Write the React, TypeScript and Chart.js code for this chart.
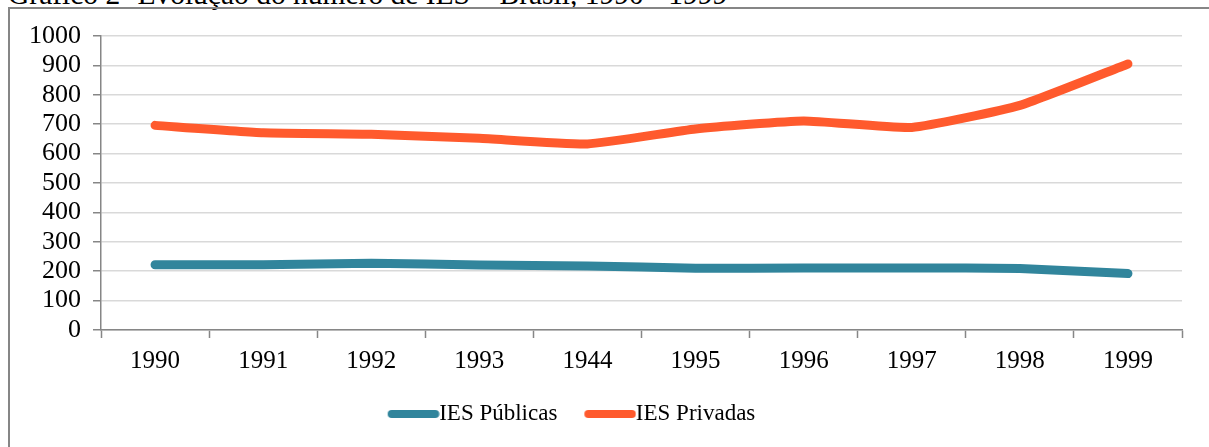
import React, { useEffect, useRef } from 'react';
import { Chart, registerables } from 'chart.js';

Chart.register(...registerables);

// ---- data ----
const categories = ['1990', '1991', '1992', '1993', '1944', '1995', '1996', '1997', '1998', '1999'];
const iesPublicas = [222, 222, 227, 221, 218, 210, 211, 211, 209, 192];
const iesPrivadas = [696, 671, 666, 652, 633, 684, 711, 689, 764, 905];
const seriesNames = ['IES Públicas', 'IES Privadas'];
const seriesColors = ['#31859C', '#FF5A2D'];
const yMin = 0;
const yMax = 1000;
const yStep = 100;
const titleText = 'Gráfico 2- Evolução do número de IES – Brasil, 1990 - 1999';

// ---- layout constants ----
const W = 1209;
const H = 447;
const FONT = "'Liberation Serif', 'Times New Roman', serif";
const X_TICK_FONT = 25;
const Y_TICK_FONT = 26;
const LEGEND_FONT = 23;
const LEGEND_PAD = 27;
const LEGEND_BOX = 40;
const LEGEND_CX = 571.5;
const LEGEND_CY = 414;
const AXIS_GRAY = '#868686';
const GRID_GRAY = '#d9d9d9';
const LINE_W = 9;

function makeLegendLine(color: string): HTMLCanvasElement {
  const c = document.createElement('canvas');
  c.width = 64;
  c.height = 12;
  const ctx = c.getContext('2d')!;
  ctx.strokeStyle = color;
  ctx.lineWidth = 8;
  ctx.lineCap = 'round';
  ctx.beginPath();
  ctx.moveTo(16, 6);
  ctx.lineTo(59.5, 6);
  ctx.stroke();
  return c;
}

const legendPlacer = {
  id: 'legendPlacer',
  afterLayout(chart: any) {
    const lg = chart.legend;
    if (!lg) return;
    const dx = LEGEND_CX - (lg.left + lg.right) / 2;
    lg.left += dx;
    lg.right += dx;
    const dy = LEGEND_CY - (lg.top + LEGEND_PAD + LEGEND_FONT / 2);
    lg.top += dy;
    lg.bottom += dy;
  },
};

export default function App() {
  const ref = useRef<HTMLCanvasElement>(null);

  useEffect(() => {
    if (!ref.current) return;
    const images = seriesColors.map(makeLegendLine);
    const lineStyle = {
      borderWidth: LINE_W,
      borderCapStyle: 'round',
      borderJoinStyle: 'round',
      pointRadius: 0,
      tension: 0.15,
      fill: false,
    };
    const chart = new Chart(ref.current, {
      type: 'line',
      data: {
        labels: categories,
        datasets: [
          {
            label: seriesNames[0],
            data: iesPublicas,
            borderColor: seriesColors[0],
            backgroundColor: seriesColors[0],
            ...lineStyle,
          },
          {
            label: seriesNames[1],
            data: iesPrivadas,
            borderColor: seriesColors[1],
            backgroundColor: seriesColors[1],
            ...lineStyle,
          },
        ],
      },
      options: {
        responsive: false,
        animation: false,
        devicePixelRatio: 1,
        layout: { padding: { top: 36, right: 27, bottom: 11, left: 0 } },
        font: { family: FONT },
        scales: {
          x: {
            offset: true,
            grid: {
              display: true,
              offset: true,
              drawOnChartArea: false,
              drawTicks: true,
              tickLength: 8,
              tickColor: AXIS_GRAY,
              tickWidth: 1.5,
            },
            border: { display: true, color: AXIS_GRAY, width: 1.5 },
            ticks: {
              color: '#000',
              font: { family: FONT, size: X_TICK_FONT },
              padding: 8,
              maxRotation: 0,
              autoSkip: false,
            },
            afterFit: (scale: any) => {
              scale.height = 46;
            },
          },
          y: {
            min: yMin,
            max: yMax,
            grid: {
              color: GRID_GRAY,
              lineWidth: 1.5,
              drawTicks: true,
              tickLength: 8,
              tickColor: AXIS_GRAY,
              tickWidth: 1.5,
            },
            border: { display: true, color: AXIS_GRAY, width: 1.5 },
            ticks: {
              stepSize: yStep,
              autoSkip: false,
              color: '#000',
              font: { family: FONT, size: Y_TICK_FONT, lineHeight: 1 },
              padding: 12,
              callback: (v: any) => String(v),
            },
            afterFit: (scale: any) => {
              scale.width = 101;
            },
          },
        },
        plugins: {
          title: { display: false },
          tooltip: { enabled: false },
          legend: {
            display: true,
            position: 'bottom',
            labels: {
              usePointStyle: true,
              pointStyleWidth: LEGEND_BOX,
              padding: LEGEND_PAD,
              color: '#000',
              font: { family: FONT, size: LEGEND_FONT },
              generateLabels: (ch: any) =>
                ch.data.datasets.map((ds: any, i: number) => ({
                  text: ds.label,
                  fillStyle: ds.borderColor,
                  strokeStyle: ds.borderColor,
                  lineWidth: 0,
                  pointStyle: images[i],
                  hidden: false,
                  datasetIndex: i,
                  fontColor: '#000',
                })),
            },
          },
        },
      },
      plugins: [legendPlacer],
    } as any);
    return () => chart.destroy();
  }, []);

  return (
    <div
      style={{
        position: 'absolute',
        left: 0,
        top: 0,
        width: W,
        height: H,
        overflow: 'hidden',
        background: '#fff',
      }}
    >
      <div
        style={{
          position: 'absolute',
          left: 8,
          top: -20,
          whiteSpace: 'nowrap',
          fontFamily: FONT,
          fontSize: 29.5,
          lineHeight: '29.5px',
          color: '#000',
        }}
      >
        {titleText}
      </div>
      <div
        style={{
          position: 'absolute',
          left: 8,
          top: 7,
          width: W + 40,
          height: H + 40,
          border: `2px solid ${AXIS_GRAY}`,
          boxSizing: 'border-box',
        }}
      />
      <canvas
        ref={ref}
        width={W}
        height={H}
        style={{ position: 'absolute', left: 0, top: 0, width: W, height: H }}
      />
    </div>
  );
}
